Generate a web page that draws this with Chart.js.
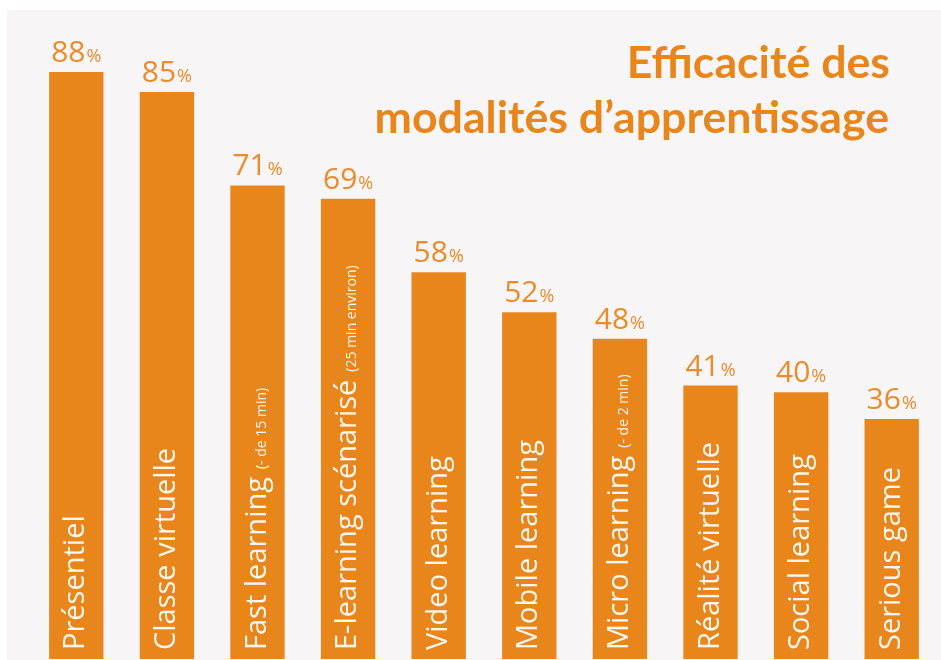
<!DOCTYPE html>
<html>
<head>
<meta charset="utf-8">
<script src="https://cdn.jsdelivr.net/npm/chart.js@4"></script>
<style>
html,body{margin:0;padding:0;background:#ffffff;}
#wrap{width:941px;height:660px;position:relative;}
canvas{display:block;}
</style>
</head>
<body>
<div id="wrap"><canvas id="c" width="941" height="660"></canvas></div>
<script>
const categories = ['Présentiel','Classe virtuelle','Fast learning','E-learning scénarisé','Video learning','Mobile learning','Micro learning','Réalité virtuelle','Social learning','Serious game'];
const notes = ['', '', '(- de 15 min)', '(25 min environ)', '', '', '(- de 2 min)', '', '', ''];
const values = [88,85,71,69,58,52,48,41,40,36];
const titleLines = ['Efficacité des', 'modalités d\u2019apprentissage'];

const ORANGE = '#e8861c';
const TEXT_ORANGE = '#ea8b2c';
const LABEL_FONT = '"Open Sans"';

const decor = {
  id: 'decor',
  beforeDraw(chart) {
    const ctx = chart.ctx;
    ctx.save();
    ctx.fillStyle = '#ffffff';
    ctx.fillRect(0, 0, chart.width, chart.height);
    ctx.fillStyle = '#f7f5f5';
    ctx.fillRect(7, 10, chart.width - 7, chart.height - 10);
    ctx.restore();
  },
  afterDatasetsDraw(chart) {
    const ctx = chart.ctx;
    const meta = chart.getDatasetMeta(0);
    const yScale = chart.scales.y;
    const base = yScale.getPixelForValue(0);
    ctx.save();
    meta.data.forEach((bar, i) => {
      const x = bar.x;
      const num = String(values[i]);
      ctx.font = '400 30px ' + LABEL_FONT;
      const wn = ctx.measureText(num).width;
      ctx.font = '400 18px ' + LABEL_FONT;
      const wp = ctx.measureText('%').width;
      const start = x - (wn + wp + 1) / 2;
      const by = bar.y - 10;
      ctx.fillStyle = TEXT_ORANGE;
      ctx.textBaseline = 'alphabetic';
      ctx.textAlign = 'left';
      ctx.font = '400 30px ' + LABEL_FONT;
      ctx.fillText(num, start, by);
      ctx.font = '400 18px ' + LABEL_FONT;
      ctx.fillText('%', start + wn + 1, by);
      ctx.save();
      ctx.translate(x + 8, base - 9);
      ctx.rotate(-Math.PI / 2);
      ctx.fillStyle = '#fdf6ee';
      ctx.font = '400 29px ' + LABEL_FONT;
      ctx.fillText(categories[i], 0, 0);
      const wm = ctx.measureText(categories[i]).width;
      if (notes[i]) {
        ctx.font = '400 14px ' + LABEL_FONT;
        ctx.fillText(notes[i], wm + 8, 0);
      }
      ctx.restore();
    });
    ctx.fillStyle = ORANGE;
    ctx.textAlign = 'right';
    let size = 36;
    ctx.font = '700 ' + size + 'px Lato';
    const w2 = ctx.measureText(titleLines[1]).width;
    size = size * 515 / w2;
    ctx.font = '700 ' + size.toFixed(1) + 'px Lato';
    ctx.fillText(titleLines[0], 890, 78);
    ctx.fillText(titleLines[1], 889, 133);
    ctx.restore();
  }
};

function build() {
  new Chart(document.getElementById('c'), {
    type: 'bar',
    data: {
      labels: categories,
      datasets: [{
        data: values,
        backgroundColor: ORANGE,
        borderWidth: 0,
        barPercentage: 0.6,
        categoryPercentage: 1.0
      }]
    },
    options: {
      responsive: false,
      animation: false,
      events: [],
      layout: { padding: { left: 31, right: 4, top: 0, bottom: 1 } },
      plugins: { legend: { display: false }, tooltip: { enabled: false }, title: { display: false } },
      scales: {
        x: { display: false },
        y: { display: false, min: 0, max: 98.8 }
      }
    },
    plugins: [decor]
  });
}

Promise.all([
  document.fonts.load('400 30px "Open Sans"', 'Présentiel 0123456789%'),
  document.fonts.load('700 36px Lato', 'Efficacité')
]).then(build, build);
</script>
</body>
</html>
